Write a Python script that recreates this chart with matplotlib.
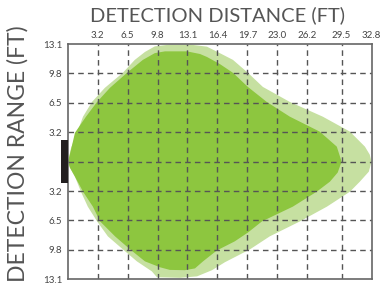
import matplotlib
matplotlib.use("Agg")
import matplotlib.pyplot as plt
from matplotlib.patches import Polygon, Rectangle

plt.rcParams['font.family'] = ['Lato', 'DejaVu Sans']

# grid positions (1 unit = 1 m = 3.28 ft) and their feet labels
x_ticks = [1, 2, 3, 4, 5, 6, 7, 8, 9.15, 10.15]
x_labels = ['3.2', '6.5', '9.8', '13.1', '16.4', '19.7', '23.0', '26.2', '29.5', '32.8']
y_ticks = [-4, -3, -2, -1, 0, 1, 2, 3, 4]
y_labels = ['13.1', '9.8', '6.5', '3.2', '', '3.2', '6.5', '9.8', '13.1']

# outer (max) detection zone outline
outer_x = [0.01, 0.11, 0.31, 0.51, 0.81, 1.24, 1.84, 2.24, 2.58, 2.91, 3.41, 4.08,
           4.65, 5.08, 5.52, 6.02, 6.52, 7.42, 8.52, 9.43, 9.93, 10.09, 10.15,
           10.06, 9.76, 9.43, 8.66, 7.76, 6.75, 6.09, 5.25, 4.82, 4.32, 3.75, 2.98,
           2.81, 2.31, 1.84, 1.34, 0.98, 0.67, 0.44, 0.24, 0.07]
outer_y = [0.0, 0.47, 0.98, 1.53, 2.03, 2.51, 3.02, 3.46, 3.73, 3.92, 3.98, 3.98,
           3.91, 3.69, 3.46, 3.02, 2.54, 2.03, 1.53, 1.02, 0.51, 0.24, 0.0,
           -0.34, -0.68, -1.02, -1.53, -2.03, -2.54, -2.98, -3.42, -3.69, -3.90, -3.95, -3.93,
           -3.73, -3.39, -2.98, -2.54, -2.03, -1.53, -1.02, -0.51, -0.20]

# inner (typical) detection zone outline
inner_x = [0.01, 0.11, 0.24, 0.61, 0.98, 1.41, 1.98, 2.51, 2.91, 3.25, 3.98, 4.42,
           4.65, 5.08, 5.52, 6.02, 6.65, 7.42, 8.42, 8.99, 9.15, 9.02, 8.76, 8.32,
           7.52, 6.49, 6.02, 5.58, 4.98, 4.52, 4.25, 3.91, 3.41, 3.08, 2.58, 2.08,
           1.58, 1.08, 0.84, 0.51, 0.24, 0.07]
inner_y = [0.0, 0.41, 0.98, 1.53, 2.03, 2.51, 3.02, 3.46, 3.69, 3.75, 3.75, 3.66,
           3.56, 3.32, 3.02, 2.54, 2.03, 1.53, 1.02, 0.51, 0.0, -0.37, -0.68, -1.02,
           -1.53, -2.03, -2.41, -2.71, -3.02, -3.39, -3.63, -3.69, -3.68, -3.59, -3.39, -2.98,
           -2.54, -2.03, -1.53, -1.02, -0.51, -0.20]

sensor_w = 0.23
sensor_h = 1.46

fig = plt.figure(figsize=(3.85, 2.85), dpi=100)
ax = fig.add_axes([0.176, 0.020, 0.789, 0.8256])

ax.add_patch(Polygon(list(zip(outer_x, outer_y)), closed=True,
                     facecolor='#c6e0a1', edgecolor='none', zorder=1))
ax.add_patch(Polygon(list(zip(inner_x, inner_y)), closed=True,
                     facecolor='#8dc63f', edgecolor='none', zorder=1.5))

ax.set_xlim(0, 10.15)
ax.set_ylim(-4, 4)

# dashed grid on top of the zones
for x in x_ticks[:-1]:
    ax.axvline(x, color='#555555', lw=1.0, ls=(0, (4, 3)), zorder=2)
for y in y_ticks[1:-1]:
    ax.axhline(y, color='#555555', lw=1.0, ls=(0, (4, 3)), zorder=2)

ax.xaxis.tick_top()
ax.set_xticks(x_ticks)
ax.set_xticklabels(x_labels)
ax.set_yticks(y_ticks)
ax.set_yticklabels(y_labels)
ax.tick_params(axis='both', length=0, labelsize=7, labelcolor='#444444')
ax.tick_params(axis='x', pad=3)
ax.tick_params(axis='y', pad=4)

for s in ax.spines.values():
    s.set_color('#666666')
    s.set_linewidth(1.2)
    s.set_zorder(3)

# sensor on the left edge
ax.add_patch(Rectangle((-sensor_w, -sensor_h / 2), sensor_w, sensor_h,
                       facecolor='#231f20', edgecolor='none', clip_on=False, zorder=4))

fig.text(0.565, 0.947, 'DETECTION DISTANCE (FT)', ha='center', va='center',
         fontsize=14.5, color='#555555')
fig.text(0.046, 0.46, 'DETECTION RANGE (FT)', ha='center', va='center',
         rotation=90, fontsize=16.5, color='#555555')

fig.savefig('out.png', dpi=100)
